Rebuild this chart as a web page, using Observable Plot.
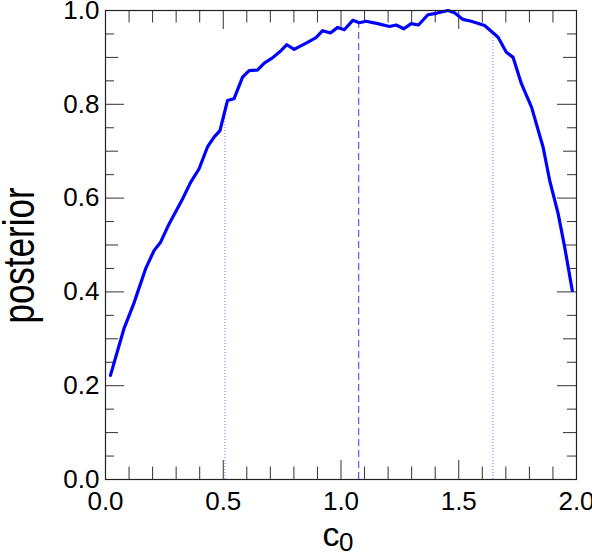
<!DOCTYPE html>
<html>
<head>
<meta charset="utf-8">
<script src="https://cdn.jsdelivr.net/npm/d3@7"></script>
<script src="https://cdn.jsdelivr.net/npm/@observablehq/plot@0.6"></script>
<style>
  html, body { margin: 0; padding: 0; background: #fff; }
  svg { display: block; }
</style>
</head>
<body>
<div id="chart"></div>
<script>
// ---- data ----
const c0 = [0.021, 0.078, 0.12, 0.170, 0.206, 0.234, 0.27, 0.326, 0.362, 0.397, 0.433, 0.461, 0.486,
  0.518, 0.546, 0.582, 0.610, 0.645, 0.674, 0.709, 0.740, 0.770, 0.801, 0.858, 0.894, 0.922, 0.955,
  0.986, 1.014, 1.050, 1.078, 1.106, 1.156, 1.206, 1.234, 1.267, 1.298, 1.329, 1.369, 1.404, 1.454,
  1.482, 1.518, 1.553, 1.610, 1.667, 1.702, 1.731, 1.766, 1.809, 1.858, 1.886, 1.922, 1.950, 1.982];
const posterior = [0.222, 0.321, 0.375, 0.449, 0.488, 0.506, 0.545, 0.597, 0.634, 0.662, 0.709, 0.730, 0.744,
  0.808, 0.812, 0.858, 0.872, 0.873, 0.888, 0.899, 0.912, 0.927, 0.917, 0.932, 0.942, 0.957, 0.952,
  0.964, 0.959, 0.979, 0.974, 0.977, 0.972, 0.966, 0.969, 0.961, 0.972, 0.969, 0.991, 0.994, 1.000,
  0.995, 0.981, 0.977, 0.968, 0.943, 0.911, 0.900, 0.844, 0.794, 0.709, 0.638, 0.567, 0.495, 0.403];

// marker lines (dotted / dashed / dotted)
const markerX = [0.507, 1.075, 1.645];
const markerTop = [0.78, 0.974, 0.947];
const markerStyle = ["dotted", "dashed", "dotted"];

// ticks and labels
const xTickLabels = [0.0, 0.5, 1.0, 1.5, 2.0];
const xMinorTicks = [0.1, 0.2, 0.3, 0.4, 0.6, 0.7, 0.8, 0.9, 1.1, 1.2, 1.3, 1.4, 1.6, 1.7, 1.8, 1.9];
const yTickLabels = [0.0, 0.2, 0.4, 0.6, 0.8, 1.0];
const yMediumTicks = [0.1, 0.3, 0.5, 0.7, 0.9];
const yMinorTicks = [0.05, 0.15, 0.25, 0.35, 0.45, 0.55, 0.65, 0.75, 0.85, 0.95];

const curve = c0.map((x, i) => ({x, y: posterior[i]}));
const markers = markerX.map((x, i) => ({x, top: markerTop[i], style: markerStyle[i]}));

// ---- layout ----
const W = 592, H = 552;
const mL = 105, mR = 16, mT = 10, mB = 73;
const pw = W - mL - mR, ph = H - mT - mB;
const tickColor = "#333";
const fmt = d3.format(".1f");

function leftTicks(vals, len) {
  return [
    Plot.tickY(vals, {y: d => d, stroke: tickColor, insetRight: pw - len}),
    Plot.tickY(vals, {y: d => d, stroke: tickColor, insetLeft: pw - len})
  ];
}
function bottomTicks(vals, len) {
  return [
    Plot.tickX(vals, {x: d => d, stroke: tickColor, insetTop: ph - len}),
    Plot.tickX(vals, {x: d => d, stroke: tickColor, insetBottom: ph - len})
  ];
}

const chart = Plot.plot({
  width: W,
  height: H,
  marginLeft: mL,
  marginRight: mR,
  marginTop: mT,
  marginBottom: mB,
  style: {fontFamily: "'Liberation Sans', Arial, Helvetica, sans-serif", background: "#fff", color: "#000", overflow: "visible"},
  x: {domain: [0, 2], label: null},
  y: {domain: [0, 1], label: null},
  marks: [
    ...leftTicks(yTickLabels, 19),
    ...leftTicks(yMediumTicks, 13),
    ...leftTicks(yMinorTicks, 9),
    ...bottomTicks(xTickLabels, 19),
    ...bottomTicks(xMinorTicks, 12.5),
    Plot.ruleX(markers.filter(d => d.style === "dotted"), {
      x: "x", y1: 0, y2: "top", stroke: "#7a7aff", strokeWidth: 1, strokeDasharray: "1,2"
    }),
    Plot.ruleX(markers.filter(d => d.style === "dashed"), {
      x: "x", y1: 0, y2: "top", stroke: "#5a5aff", strokeWidth: 1.2, strokeDasharray: "7,4"
    }),
    Plot.line(curve, {x: "x", y: "y", stroke: "#0000ff", strokeWidth: 3.2, curve: "linear"}),
    Plot.frame({stroke: "#222", strokeWidth: 1.2}),
    Plot.axisX(xTickLabels, {tickSize: 0, tickPadding: 12, fontSize: 26, tickFormat: fmt, label: null, fill: "#000"}),
    Plot.axisY(yTickLabels, {tickSize: 0, tickPadding: 6, fontSize: 26, tickFormat: fmt, label: null, fill: "#000"}),
    Plot.text(["c"], {frameAnchor: "bottom", textAnchor: "end", lineAnchor: "bottom", dx: -1.5, dy: 66, fontSize: 34, fill: "#000"}),
    Plot.text(["0"], {frameAnchor: "bottom", textAnchor: "start", lineAnchor: "bottom", dx: -2, dy: 71, fontSize: 26, fill: "#000"}),
    Plot.text(["posterior"], {frameAnchor: "left", rotate: -90, textAnchor: "middle", lineAnchor: "bottom", dx: -72, dy: 10.5, fontSize: 35, fill: "#000"})
  ]
});
// the reference's y label glyphs are drawn taller than wide: stretch them across the text direction
d3.select(chart).selectAll("text")
  .filter(function () { return this.textContent === "posterior"; })
  .each(function () {
    const t = this.getAttribute("transform");
    if (t) this.setAttribute("transform", t + " scale(1,1.25)");
  });
document.getElementById("chart").appendChild(chart);
</script>
</body>
</html>
